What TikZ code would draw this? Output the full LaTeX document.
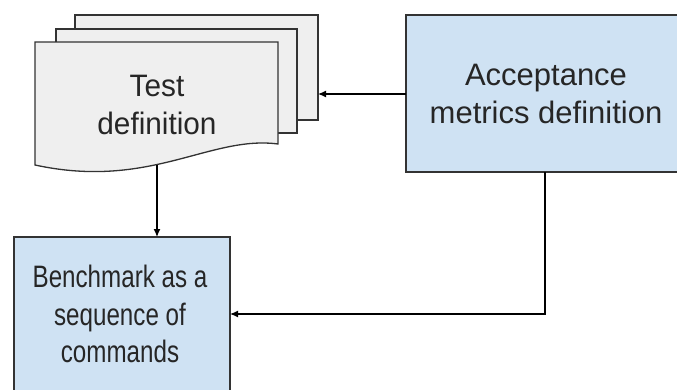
\documentclass[tikz,border=0pt]{standalone}
\usepackage{fontspec}
\setmainfont{Liberation Sans}
\newfontfamily\narrowsans[FakeStretch=0.78]{Liberation Sans}
\newfontfamily\semisans[FakeStretch=0.96]{Liberation Sans}
\usetikzlibrary{arrows.meta}
\definecolor{docgray}{HTML}{EFEFEF}
\definecolor{boxblue}{HTML}{CFE2F3}
\definecolor{linegray}{HTML}{333333}
\begin{document}
\begin{tikzpicture}[x=1pt,y=-1pt,
  outline/.style={draw=linegray,line width=1.3pt},
  sheet/.style={outline,fill=docgray},
  bluebox/.style={outline,fill=boxblue},
  lbl/.style={font=\fontsize{31}{37.5}\selectfont,align=center,text=black!85},
  conn/.style={draw=black,line width=1.2pt,-{Latex[length=8pt,width=7pt]}}]
\useasboundingbox (0,0) rectangle (677,389);
\begin{scope}
\clip (0,0) rectangle (677,389);
% document stack
\draw[sheet] (75,15) rectangle (318,120);
\draw[sheet] (56,29) rectangle (297,133);
\draw[sheet] (35,42) -- (278,42) -- (278,144) .. controls (210,135) and (150,190) .. (35,165) -- cycle;
\coordinate (docback) at (318,94);
\coordinate (docbot) at (157,165);
\node[lbl,font=\semisans\fontsize{31}{37.5}\selectfont] (doc) at (157,105) {Test\\definition};
% acceptance box
\draw[bluebox] (406,15) rectangle (690,172);
\node[lbl] (acc) at (546,94) {Acceptance\\metrics definition};
\coordinate (accleft) at (406,94);
\coordinate (accbot) at (545,172);
% benchmark box
\draw[bluebox] (14,237) rectangle (230,400);
\node[lbl,font=\narrowsans\fontsize{31}{37.5}\selectfont] (bench) at (120,314) {Benchmark as a\\sequence of\\commands};
\coordinate (benchtop) at (157,237);
\coordinate (benchright) at (230,314);
% connectors
\draw[conn] (accleft) -- (docback);
\draw[conn] (docbot) -- (benchtop);
\draw[conn] (accbot) |- (benchright);
\end{scope}
\end{tikzpicture}
\end{document}
